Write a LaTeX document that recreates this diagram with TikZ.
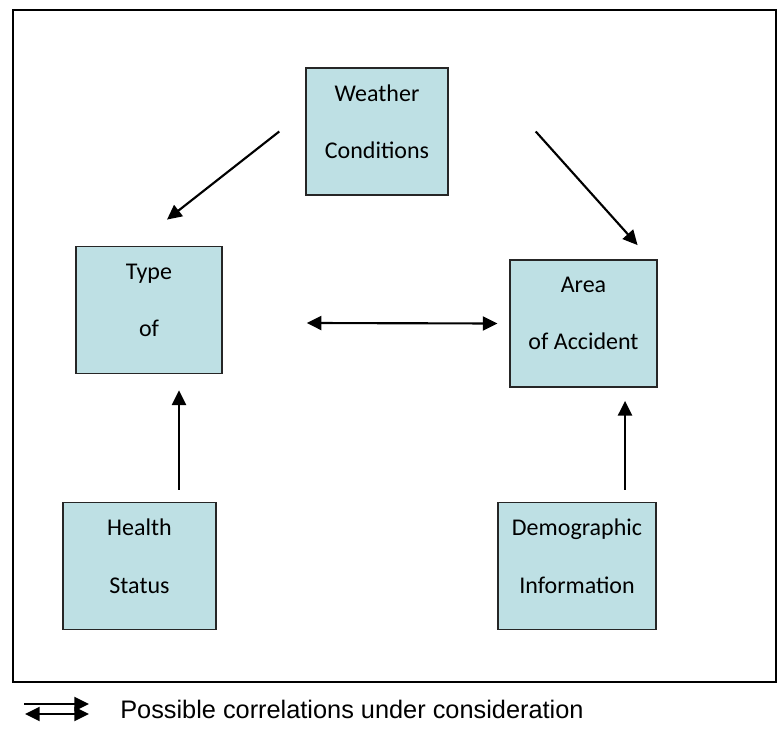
\documentclass[tikz,border=0pt]{standalone}
\usepackage{fontspec}
\usepackage{xcolor}
\setmainfont{Carlito}
\newfontfamily\keyfont{Liberation Sans}
\usetikzlibrary{arrows.meta}

\definecolor{boxfill}{RGB}{190,224,228}

\begin{document}
\begin{tikzpicture}[
  x=0.75pt, y=-0.75pt,
  font=\fontsize{18}{43}\selectfont,
  box/.style={
    rectangle, draw=black!85, line width=1.1pt, fill=boxfill,
    align=center, inner sep=0pt, minimum height=95.5pt,
    execute at end node={\rule[-15pt]{0pt}{15pt}},
  },
  link/.style={-{Triangle[length=11pt,width=10.5pt]}, line width=1.6pt},
  twoway/.style={{Triangle[length=11pt,width=10.5pt]}-{Triangle[length=11pt,width=10.5pt]},
                 line width=1.6pt},
]
\useasboundingbox (0,0) rectangle (777,730);
\draw[line width=1.5pt] (13,10) rectangle (776,682);

% factor boxes
\node[box, minimum width=106.5pt] (weather) at (377,131.5) {Weather\\Conditions};
\node[box, minimum width=109.5pt] (type)    at (149,310)   {Type\\of};
\node[box, minimum width=110pt]   (area)    at (583.5,323.5) {Area\\of Accident};
\node[box, minimum width=114.5pt] (health)  at (139.5,566) {Health\\Status};
\node[box, minimum width=118.5pt] (demo)    at (577,566)   {Demographic\\Information};

% influences
\draw[link] ([shift={(-26,0)}]weather.west) -- ([shift={(18,-26)}]type.north);
\draw[link] ([shift={(87,0)}]weather.east) -- ([shift={(-20,-14)}]area.north east);
\draw[twoway] ([shift={(84,13)}]type.east) -- ([shift={(-12,0)}]area.west);
\draw[link] ([shift={(39.5,-12)}]health.north) -- ([shift={(30,16)}]type.south);
\draw[link] ([shift={(48,-12)}]demo.north) -- ([shift={(41.5,13)}]area.south);

% key
\coordinate (keyA) at (24,704);
\coordinate (keyB) at (89,704);
\coordinate (keyC) at (25,714);
\coordinate (keyD) at (89,714);
\draw[link] (keyA) -- (keyB);
\draw[twoway] (keyC) -- (keyD);
\node[anchor=west, inner sep=0pt, font=\keyfont\fontsize{19}{22}\selectfont]
  (keytext) at (120,709) {Possible correlations under consideration};
\end{tikzpicture}
\end{document}
